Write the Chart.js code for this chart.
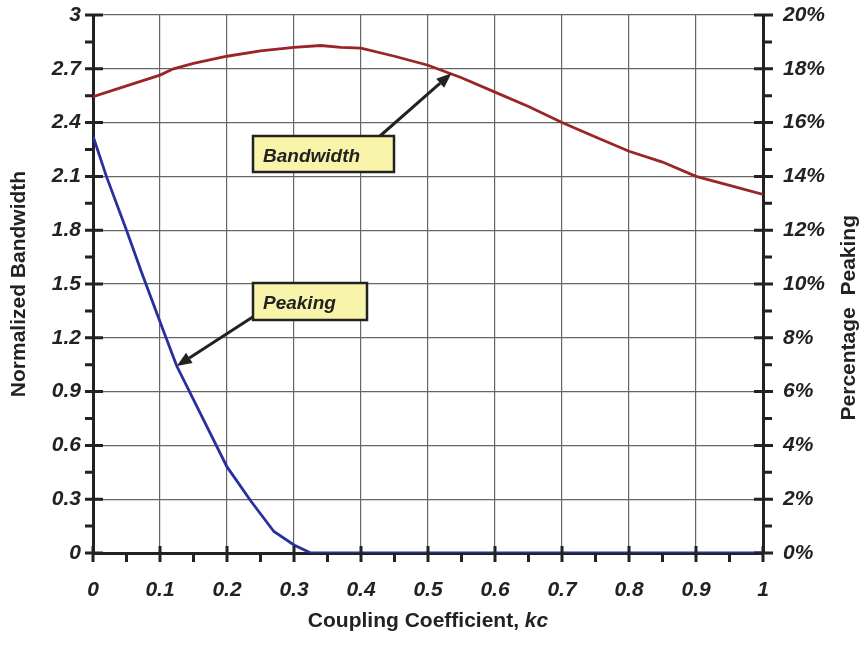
<!DOCTYPE html>
<html>
<head>
<meta charset="utf-8">
<script src="https://cdn.jsdelivr.net/npm/chart.js@4.4.1/dist/chart.umd.min.js"></script>
<style>
  html, body { margin: 0; padding: 0; background: #fff; }
  #wrap { width: 863px; height: 645px; }
</style>
</head>
<body>
<div id="wrap"><canvas id="chart" width="863" height="645"></canvas></div>
<script>
// coupling coefficient vs normalized bandwidth (left axis)
const bwK = [0, 0.05, 0.1, 0.12, 0.15, 0.2, 0.25, 0.3, 0.34, 0.37, 0.4, 0.45, 0.5, 0.55, 0.6, 0.65, 0.7, 0.75, 0.8, 0.85, 0.9, 0.95, 1.0];
const bandwidth = [2.545, 2.605, 2.665, 2.70, 2.73, 2.77, 2.80, 2.82, 2.83, 2.82, 2.815, 2.77, 2.72, 2.65, 2.57, 2.49, 2.40, 2.32, 2.24, 2.18, 2.10, 2.05, 2.00];

// coupling coefficient vs percentage peaking (right axis)
const pkK = [0, 0.02, 0.05, 0.073, 0.1, 0.125, 0.16, 0.2, 0.21, 0.235, 0.27, 0.3, 0.325, 0.4, 0.5, 0.6, 0.7, 0.8, 0.9, 1.0];
const peaking = [15.5, 14.0, 12.0, 10.4, 8.6, 6.95, 5.2, 3.2, 2.85, 1.95, 0.8, 0.3, 0, 0, 0, 0, 0, 0, 0, 0];

const xTicks = [0, 0.1, 0.2, 0.3, 0.4, 0.5, 0.6, 0.7, 0.8, 0.9, 1];
const leftTicks = [0, 0.3, 0.6, 0.9, 1.2, 1.5, 1.8, 2.1, 2.4, 2.7, 3];
const rightTicks = [0, 2, 4, 6, 8, 10, 12, 14, 16, 18, 20];

// callout labels: text, point on the curve the arrow points at
const bwNote = { text: 'Bandwidth', k: 0.535, v: 2.675 };
const pkNote = { text: 'Peaking', k: 0.125, v: 6.95 };

const INK = '#222';
const tickFont = { family: 'Arial, "Liberation Sans", sans-serif', size: 21, weight: 'bold', style: 'italic' };

function fmt(v) { return String(Number(v.toFixed(2))); }

function midpoints(arr) {
  const out = [];
  for (let i = 0; i < arr.length - 1; i++) out.push((arr[i] + arr[i + 1]) / 2);
  return out;
}

function arrow(ctx, x0, y0, x1, y1) {
  const a = Math.atan2(y1 - y0, x1 - x0);
  const len = 15, half = 6;
  const bx = x1 - len * Math.cos(a), by = y1 - len * Math.sin(a);
  ctx.beginPath();
  ctx.moveTo(x0, y0);
  ctx.lineTo(bx, by);
  ctx.lineWidth = 3;
  ctx.strokeStyle = INK;
  ctx.stroke();
  ctx.beginPath();
  ctx.moveTo(x1, y1);
  ctx.lineTo(bx + half * Math.sin(a), by - half * Math.cos(a));
  ctx.lineTo(bx - half * Math.sin(a), by + half * Math.cos(a));
  ctx.closePath();
  ctx.fillStyle = INK;
  ctx.fill();
}

function labelBox(ctx, text, x, y, w, h) {
  ctx.fillStyle = '#f8f4a9';
  ctx.fillRect(x, y, w, h);
  ctx.lineWidth = 2.5;
  ctx.strokeStyle = INK;
  ctx.strokeRect(x, y, w, h);
  ctx.fillStyle = INK;
  ctx.font = 'italic bold 19px Arial, "Liberation Sans", sans-serif';
  ctx.textAlign = 'left';
  ctx.textBaseline = 'alphabetic';
  ctx.fillText(text, x + 10, y + 26);
}

// keep the plot box fixed: no extra room for half-height tick labels
function noOverflowY(s, w) { s.width = w; s.paddingTop = 0; s.paddingBottom = 0; }

const decorations = {
  id: 'decorations',
  afterDraw(chart) {
    const { ctx, chartArea: ca, scales } = chart;
    const xs = scales.x, yl = scales.y, yr = scales.y1;
    ctx.save();

    // tick marks: major ones cross the axis, minor ones sit outside
    ctx.strokeStyle = INK;
    ctx.lineWidth = 3;
    ctx.beginPath();
    leftTicks.forEach(v => { const p = yl.getPixelForValue(v); ctx.moveTo(ca.left - 8, p); ctx.lineTo(ca.left + 10, p); });
    midpoints(leftTicks).forEach(v => { const p = yl.getPixelForValue(v); ctx.moveTo(ca.left - 8, p); ctx.lineTo(ca.left, p); });
    rightTicks.forEach(v => { const p = yr.getPixelForValue(v); ctx.moveTo(ca.right - 9, p); ctx.lineTo(ca.right + 10, p); });
    midpoints(rightTicks).forEach(v => { const p = yr.getPixelForValue(v); ctx.moveTo(ca.right, p); ctx.lineTo(ca.right + 9, p); });
    xTicks.forEach(v => { const p = xs.getPixelForValue(v); ctx.moveTo(p, ca.bottom - 7); ctx.lineTo(p, ca.bottom + 9); });
    midpoints(xTicks).forEach(v => { const p = xs.getPixelForValue(v); ctx.moveTo(p, ca.bottom); ctx.lineTo(p, ca.bottom + 9); });
    ctx.stroke();

    // axis titles
    ctx.fillStyle = INK;
    ctx.font = 'bold 21px Arial, "Liberation Sans", sans-serif';
    ctx.textBaseline = 'alphabetic';

    ctx.save();
    ctx.translate(25, (ca.top + ca.bottom) / 2);
    ctx.rotate(-Math.PI / 2);
    ctx.textAlign = 'center';
    ctx.fillText('Normalized Bandwidth', 0, 0);
    ctx.restore();

    ctx.save();
    ctx.translate(855, 215);
    ctx.rotate(-Math.PI / 2);
    ctx.textAlign = 'right';
    ctx.fillText('Percentage  Peaking', 0, 0);
    ctx.restore();

    const main = 'Coupling Coefficient, ';
    ctx.font = 'bold 21px Arial, "Liberation Sans", sans-serif';
    const w1 = ctx.measureText(main).width;
    ctx.font = 'italic bold 21px Arial, "Liberation Sans", sans-serif';
    const w2 = ctx.measureText('kc').width;
    const sx = (ca.left + ca.right) / 2 - (w1 + w2) / 2;
    ctx.textAlign = 'left';
    ctx.font = 'bold 21px Arial, "Liberation Sans", sans-serif';
    ctx.fillText(main, sx, 627);
    ctx.font = 'italic bold 21px Arial, "Liberation Sans", sans-serif';
    ctx.fillText('kc', sx + w1, 627);

    // callouts
    arrow(ctx, 380, 136, xs.getPixelForValue(bwNote.k), yl.getPixelForValue(bwNote.v));
    labelBox(ctx, bwNote.text, 253, 136, 141, 36);
    arrow(ctx, 262, 311, xs.getPixelForValue(pkNote.k), yr.getPixelForValue(pkNote.v));
    labelBox(ctx, pkNote.text, 253, 283, 114, 37);

    ctx.restore();
  }
};

new Chart(document.getElementById('chart'), {
  type: 'line',
  data: {
    datasets: [
      {
        label: 'Bandwidth',
        data: bwK.map((k, i) => ({ x: k, y: bandwidth[i] })),
        yAxisID: 'y',
        borderColor: '#9a2526',
        borderWidth: 2.8,
        pointRadius: 0,
        tension: 0,
        fill: false
      },
      {
        label: 'Peaking',
        data: pkK.map((k, i) => ({ x: k, y: peaking[i] })),
        yAxisID: 'y1',
        borderColor: '#28309e',
        borderWidth: 2.8,
        pointRadius: 0,
        tension: 0,
        fill: false
      }
    ]
  },
  options: {
    responsive: false,
    animation: false,
    layout: { padding: { top: 15, left: 0, right: 0, bottom: 0 } },
    plugins: { legend: { display: false }, tooltip: { enabled: false } },
    scales: {
      x: {
        type: 'linear',
        min: 0,
        max: 1,
        afterBuildTicks: s => { s.ticks = xTicks.map(v => ({ value: v })); },
        afterFit: s => { s.height = 92; s.paddingLeft = 0; s.paddingRight = 0; },
        grid: { color: '#666', lineWidth: 1.2, drawTicks: false },
        border: { color: INK, width: 3 },
        ticks: { color: INK, font: tickFont, padding: 25, maxRotation: 0, callback: v => fmt(v) }
      },
      y: {
        position: 'left',
        min: 0,
        max: 3,
        afterBuildTicks: s => { s.ticks = leftTicks.map(v => ({ value: v })); },
        afterFit: s => noOverflowY(s, 93),
        grid: { color: '#666', lineWidth: 1.2, drawTicks: false },
        border: { color: INK, width: 3 },
        ticks: { color: INK, font: tickFont, padding: 12, callback: v => fmt(v) }
      },
      y1: {
        position: 'right',
        min: 0,
        max: 20,
        afterBuildTicks: s => { s.ticks = rightTicks.map(v => ({ value: v })); },
        afterFit: s => noOverflowY(s, 100),
        grid: { display: false, drawTicks: false },
        border: { color: INK, width: 3 },
        ticks: { color: INK, font: tickFont, padding: 20, callback: v => v + '%' }
      }
    }
  },
  plugins: [decorations]
});
</script>
</body>
</html>
